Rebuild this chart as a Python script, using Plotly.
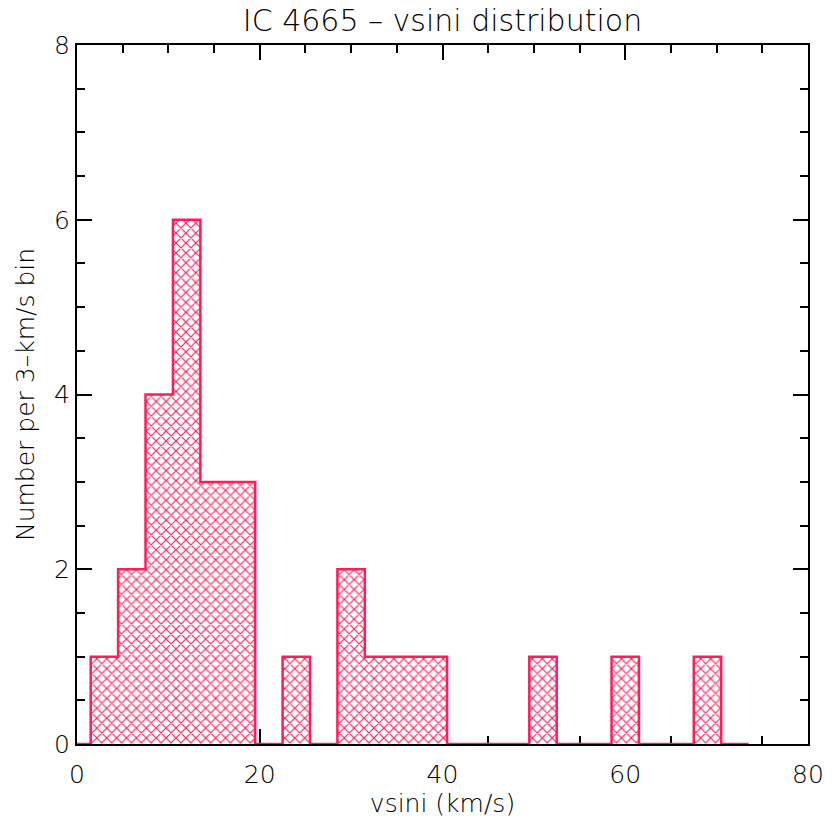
import plotly.graph_objects as go

# Histogram data: bin centers (km/s) and counts per 3-km/s bin
bin_centers = [0, 3, 6, 9, 12, 15, 18, 21, 24, 27, 30, 33, 36, 39, 42, 45, 48,
               51, 54, 57, 60, 63, 66, 69, 72]
counts = [0, 1, 2, 4, 6, 3, 3, 0, 1, 0, 2, 1, 1, 1, 0, 0, 0,
          1, 0, 0, 1, 0, 0, 1, 0]
bin_width = 3

title_text = "IC 4665 \u2013 vsini distribution"
x_title = "vsini (km/s)"
y_title = "Number per 3\u2013km/s bin"
x_ticks = [0, 20, 40, 60, 80]
y_ticks = [0, 2, 4, 6, 8]
x_range = [0, 80]
y_range = [0, 8]

RED = "#ff1d58"
FONT = "DejaVu Sans, sans-serif"

# step outline built from the bins (clipped to the visible x range)
half = bin_width / 2
step_x = [max(c - half, x_range[0]) for c in bin_centers] + [bin_centers[-1] + half]
step_y = counts + [0]

fig = go.Figure()
fig.add_trace(go.Bar(
    x=bin_centers, y=counts, width=bin_width,
    marker=dict(color=RED, line=dict(width=0),
                pattern=dict(shape="x", size=7, solidity=0.3,
                             fgcolor=RED, bgcolor="white", fillmode="replace")),
    showlegend=False, hoverinfo="skip"))
fig.add_trace(go.Scatter(
    x=step_x, y=step_y, mode="lines", line=dict(color=RED, width=2.5, shape="hv"),
    showlegend=False, hoverinfo="skip", cliponaxis=False))

tick_font = dict(family=FONT, size=25, color="black", weight=300)
axis_common = dict(
    showgrid=False, zeroline=False, showline=True, linecolor="black", linewidth=2,
    mirror="allticks", ticks="inside", ticklen=15, tickwidth=1.5, tickcolor="black",
    tickfont=tick_font, layer="below traces", automargin=False,
)

fig.update_xaxes(range=x_range, tickvals=x_ticks, ticklabelstandoff=7,
                 minor=dict(dtick=5, ticks="inside", ticklen=8, tickwidth=1.5, tickcolor="black"),
                 title=dict(text=x_title, font=tick_font, standoff=5),
                 **axis_common)
fig.update_yaxes(range=y_range, tickvals=y_ticks,
                 minor=dict(dtick=0.5, ticks="inside", ticklen=8, tickwidth=1.5, tickcolor="black"),
                 title=dict(text=y_title, font=tick_font, standoff=12),
                 **axis_common)

fig.update_layout(
    width=832, height=826,
    margin=dict(l=77, r=24, t=45, b=82),
    paper_bgcolor="white", plot_bgcolor="white",
    bargap=0,
    title=dict(text=title_text, x=0.5, xref="paper", xanchor="center",
               y=0.988, yanchor="top",
               font=dict(family=FONT, size=30, color="black", weight=300)),
)

fig.write_html("out.html")
